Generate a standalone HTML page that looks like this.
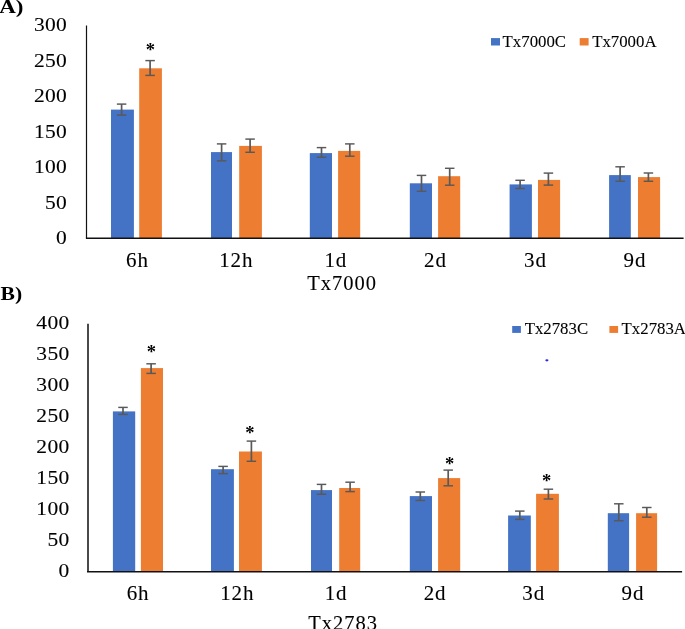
<!DOCTYPE html>
<html><head><meta charset="utf-8"><style>
html,body{margin:0;padding:0;background:#fff;width:685px;height:629px;overflow:hidden}
svg{display:block;will-change:transform;}
text.r{stroke:#000;stroke-width:0.1px;}
text{font-family:"Liberation Serif",serif}
</style></head><body>
<svg width="685" height="629" viewBox="0 0 685 629">
<rect x="111.00" y="109.60" width="22.90" height="128.50" fill="#4472C4"/>
<rect x="139.20" y="68.30" width="22.70" height="169.80" fill="#ED7D31"/>
<rect x="211.00" y="152.10" width="21.00" height="86.00" fill="#4472C4"/>
<rect x="239.20" y="145.90" width="22.70" height="92.20" fill="#ED7D31"/>
<rect x="309.80" y="153.10" width="22.20" height="85.00" fill="#4472C4"/>
<rect x="338.10" y="150.90" width="22.10" height="87.20" fill="#ED7D31"/>
<rect x="409.80" y="183.30" width="22.20" height="54.80" fill="#4472C4"/>
<rect x="438.10" y="176.20" width="22.10" height="61.90" fill="#ED7D31"/>
<rect x="509.60" y="184.40" width="22.30" height="53.70" fill="#4472C4"/>
<rect x="538.00" y="179.90" width="22.10" height="58.20" fill="#ED7D31"/>
<rect x="609.10" y="175.10" width="21.70" height="63.00" fill="#4472C4"/>
<rect x="638.00" y="177.10" width="22.10" height="61.00" fill="#ED7D31"/>
<line x1="121.60" y1="104.10" x2="121.60" y2="115.10" stroke="#595959" stroke-width="1.7"/>
<line x1="116.85" y1="104.10" x2="126.35" y2="104.10" stroke="#595959" stroke-width="1.45"/>
<line x1="116.85" y1="115.10" x2="126.35" y2="115.10" stroke="#595959" stroke-width="1.45"/>
<line x1="150.10" y1="60.60" x2="150.10" y2="75.40" stroke="#595959" stroke-width="1.7"/>
<line x1="145.35" y1="60.60" x2="154.85" y2="60.60" stroke="#595959" stroke-width="1.45"/>
<line x1="145.35" y1="75.40" x2="154.85" y2="75.40" stroke="#595959" stroke-width="1.45"/>
<line x1="221.60" y1="143.90" x2="221.60" y2="160.80" stroke="#595959" stroke-width="1.7"/>
<line x1="216.85" y1="143.90" x2="226.35" y2="143.90" stroke="#595959" stroke-width="1.45"/>
<line x1="216.85" y1="160.80" x2="226.35" y2="160.80" stroke="#595959" stroke-width="1.45"/>
<line x1="250.10" y1="139.10" x2="250.10" y2="152.30" stroke="#595959" stroke-width="1.7"/>
<line x1="245.35" y1="139.10" x2="254.85" y2="139.10" stroke="#595959" stroke-width="1.45"/>
<line x1="245.35" y1="152.30" x2="254.85" y2="152.30" stroke="#595959" stroke-width="1.45"/>
<line x1="321.50" y1="147.60" x2="321.50" y2="157.30" stroke="#595959" stroke-width="1.7"/>
<line x1="316.75" y1="147.60" x2="326.25" y2="147.60" stroke="#595959" stroke-width="1.45"/>
<line x1="316.75" y1="157.30" x2="326.25" y2="157.30" stroke="#595959" stroke-width="1.45"/>
<line x1="349.80" y1="143.90" x2="349.80" y2="156.20" stroke="#595959" stroke-width="1.7"/>
<line x1="345.05" y1="143.90" x2="354.55" y2="143.90" stroke="#595959" stroke-width="1.45"/>
<line x1="345.05" y1="156.20" x2="354.55" y2="156.20" stroke="#595959" stroke-width="1.45"/>
<line x1="421.50" y1="175.40" x2="421.50" y2="191.30" stroke="#595959" stroke-width="1.7"/>
<line x1="416.75" y1="175.40" x2="426.25" y2="175.40" stroke="#595959" stroke-width="1.45"/>
<line x1="416.75" y1="191.30" x2="426.25" y2="191.30" stroke="#595959" stroke-width="1.45"/>
<line x1="449.70" y1="168.30" x2="449.70" y2="185.20" stroke="#595959" stroke-width="1.7"/>
<line x1="444.95" y1="168.30" x2="454.45" y2="168.30" stroke="#595959" stroke-width="1.45"/>
<line x1="444.95" y1="185.20" x2="454.45" y2="185.20" stroke="#595959" stroke-width="1.45"/>
<line x1="520.10" y1="180.30" x2="520.10" y2="188.50" stroke="#595959" stroke-width="1.7"/>
<line x1="515.35" y1="180.30" x2="524.85" y2="180.30" stroke="#595959" stroke-width="1.45"/>
<line x1="515.35" y1="188.50" x2="524.85" y2="188.50" stroke="#595959" stroke-width="1.45"/>
<line x1="548.40" y1="173.10" x2="548.40" y2="185.10" stroke="#595959" stroke-width="1.7"/>
<line x1="543.65" y1="173.10" x2="553.15" y2="173.10" stroke="#595959" stroke-width="1.45"/>
<line x1="543.65" y1="185.10" x2="553.15" y2="185.10" stroke="#595959" stroke-width="1.45"/>
<line x1="620.10" y1="166.80" x2="620.10" y2="181.30" stroke="#595959" stroke-width="1.7"/>
<line x1="615.35" y1="166.80" x2="624.85" y2="166.80" stroke="#595959" stroke-width="1.45"/>
<line x1="615.35" y1="181.30" x2="624.85" y2="181.30" stroke="#595959" stroke-width="1.45"/>
<line x1="648.40" y1="173.00" x2="648.40" y2="181.30" stroke="#595959" stroke-width="1.7"/>
<line x1="643.65" y1="173.00" x2="653.15" y2="173.00" stroke="#595959" stroke-width="1.45"/>
<line x1="643.65" y1="181.30" x2="653.15" y2="181.30" stroke="#595959" stroke-width="1.45"/>
<line x1="86.50" y1="25.50" x2="86.50" y2="238.28" stroke="#111" stroke-width="1.2"/>
<line x1="85.90" y1="238.28" x2="683.60" y2="238.28" stroke="#111" stroke-width="1.65"/>
<text transform="translate(56.08,243.99) scale(1.085,1)" font-size="19.8" letter-spacing="0.3" class="r" fill="#000">0</text>
<text transform="translate(45.01,208.55) scale(1.085,1)" font-size="19.8" letter-spacing="0.3" class="r" fill="#000">50</text>
<text transform="translate(33.94,173.12) scale(1.085,1)" font-size="19.8" letter-spacing="0.3" class="r" fill="#000">100</text>
<text transform="translate(33.94,137.69) scale(1.085,1)" font-size="19.8" letter-spacing="0.3" class="r" fill="#000">150</text>
<text transform="translate(33.94,102.25) scale(1.085,1)" font-size="19.8" letter-spacing="0.3" class="r" fill="#000">200</text>
<text transform="translate(33.94,66.82) scale(1.085,1)" font-size="19.8" letter-spacing="0.3" class="r" fill="#000">250</text>
<text transform="translate(33.94,31.39) scale(1.085,1)" font-size="19.8" letter-spacing="0.3" class="r" fill="#000">300</text>
<text transform="translate(126.02,266.70) scale(1.04,1)" font-size="20.2" letter-spacing="0.9" class="r" fill="#000">6h</text>
<text transform="translate(219.17,266.70) scale(1.04,1)" font-size="20.2" letter-spacing="0.9" class="r" fill="#000">12h</text>
<text transform="translate(324.38,266.70) scale(1.04,1)" font-size="20.2" letter-spacing="0.9" class="r" fill="#000">1d</text>
<text transform="translate(424.09,266.70) scale(1.04,1)" font-size="20.2" letter-spacing="0.9" class="r" fill="#000">2d</text>
<text transform="translate(524.05,266.70) scale(1.04,1)" font-size="20.2" letter-spacing="0.9" class="r" fill="#000">3d</text>
<text transform="translate(623.47,266.70) scale(1.04,1)" font-size="20.2" letter-spacing="0.9" class="r" fill="#000">9d</text>
<text x="307.23" y="289.60" font-size="20.5" letter-spacing="1.0" class="r" fill="#000">Tx7000</text>
<rect x="491.00" y="38.10" width="9.00" height="7.40" fill="#4472C4"/>
<rect x="579.70" y="38.10" width="8.90" height="7.40" fill="#ED7D31"/>
<text x="502.60" y="47.20" font-size="16.8" letter-spacing="0.0" class="r" fill="#000">Tx7000C</text>
<text x="592.20" y="47.20" font-size="16.8" letter-spacing="0.0" class="r" fill="#000">Tx7000A</text>
<text x="150.45" y="55.82" font-size="18.5" font-weight="bold" text-anchor="middle" fill="#000">*</text>
<text transform="translate(-0.72,12.80) scale(1.19,1)" font-size="19.3" letter-spacing="0" font-weight="bold" fill="#000">A)</text>
<rect x="112.90" y="411.40" width="22.30" height="160.10" fill="#4472C4"/>
<rect x="140.90" y="368.10" width="22.10" height="203.40" fill="#ED7D31"/>
<rect x="211.00" y="469.20" width="22.90" height="102.30" fill="#4472C4"/>
<rect x="239.00" y="451.50" width="22.90" height="120.00" fill="#ED7D31"/>
<rect x="311.00" y="490.10" width="21.00" height="81.40" fill="#4472C4"/>
<rect x="339.20" y="488.00" width="21.00" height="83.50" fill="#ED7D31"/>
<rect x="409.80" y="496.10" width="22.20" height="75.40" fill="#4472C4"/>
<rect x="438.10" y="478.10" width="22.10" height="93.40" fill="#ED7D31"/>
<rect x="508.10" y="515.50" width="22.70" height="56.00" fill="#4472C4"/>
<rect x="536.10" y="493.80" width="22.80" height="77.70" fill="#ED7D31"/>
<rect x="607.80" y="513.20" width="21.30" height="58.30" fill="#4472C4"/>
<rect x="636.10" y="513.20" width="21.00" height="58.30" fill="#ED7D31"/>
<line x1="123.00" y1="407.40" x2="123.00" y2="414.40" stroke="#595959" stroke-width="1.7"/>
<line x1="118.25" y1="407.40" x2="127.75" y2="407.40" stroke="#595959" stroke-width="1.45"/>
<line x1="118.25" y1="414.40" x2="127.75" y2="414.40" stroke="#595959" stroke-width="1.45"/>
<line x1="151.10" y1="363.80" x2="151.10" y2="373.40" stroke="#595959" stroke-width="1.7"/>
<line x1="146.35" y1="363.80" x2="155.85" y2="363.80" stroke="#595959" stroke-width="1.45"/>
<line x1="146.35" y1="373.40" x2="155.85" y2="373.40" stroke="#595959" stroke-width="1.45"/>
<line x1="223.10" y1="466.40" x2="223.10" y2="473.60" stroke="#595959" stroke-width="1.7"/>
<line x1="218.35" y1="466.40" x2="227.85" y2="466.40" stroke="#595959" stroke-width="1.45"/>
<line x1="218.35" y1="473.60" x2="227.85" y2="473.60" stroke="#595959" stroke-width="1.45"/>
<line x1="251.40" y1="441.10" x2="251.40" y2="461.30" stroke="#595959" stroke-width="1.7"/>
<line x1="246.65" y1="441.10" x2="256.15" y2="441.10" stroke="#595959" stroke-width="1.45"/>
<line x1="246.65" y1="461.30" x2="256.15" y2="461.30" stroke="#595959" stroke-width="1.45"/>
<line x1="321.50" y1="484.40" x2="321.50" y2="494.30" stroke="#595959" stroke-width="1.7"/>
<line x1="316.75" y1="484.40" x2="326.25" y2="484.40" stroke="#595959" stroke-width="1.45"/>
<line x1="316.75" y1="494.30" x2="326.25" y2="494.30" stroke="#595959" stroke-width="1.45"/>
<line x1="350.10" y1="482.20" x2="350.10" y2="491.60" stroke="#595959" stroke-width="1.7"/>
<line x1="345.35" y1="482.20" x2="354.85" y2="482.20" stroke="#595959" stroke-width="1.45"/>
<line x1="345.35" y1="491.60" x2="354.85" y2="491.60" stroke="#595959" stroke-width="1.45"/>
<line x1="420.30" y1="492.00" x2="420.30" y2="500.50" stroke="#595959" stroke-width="1.7"/>
<line x1="415.55" y1="492.00" x2="425.05" y2="492.00" stroke="#595959" stroke-width="1.45"/>
<line x1="415.55" y1="500.50" x2="425.05" y2="500.50" stroke="#595959" stroke-width="1.45"/>
<line x1="448.20" y1="470.10" x2="448.20" y2="485.80" stroke="#595959" stroke-width="1.7"/>
<line x1="443.45" y1="470.10" x2="452.95" y2="470.10" stroke="#595959" stroke-width="1.45"/>
<line x1="443.45" y1="485.80" x2="452.95" y2="485.80" stroke="#595959" stroke-width="1.45"/>
<line x1="519.80" y1="511.10" x2="519.80" y2="519.40" stroke="#595959" stroke-width="1.7"/>
<line x1="515.05" y1="511.10" x2="524.55" y2="511.10" stroke="#595959" stroke-width="1.45"/>
<line x1="515.05" y1="519.40" x2="524.55" y2="519.40" stroke="#595959" stroke-width="1.45"/>
<line x1="548.40" y1="489.20" x2="548.40" y2="499.00" stroke="#595959" stroke-width="1.7"/>
<line x1="543.65" y1="489.20" x2="553.15" y2="489.20" stroke="#595959" stroke-width="1.45"/>
<line x1="543.65" y1="499.00" x2="553.15" y2="499.00" stroke="#595959" stroke-width="1.45"/>
<line x1="618.80" y1="503.80" x2="618.80" y2="520.70" stroke="#595959" stroke-width="1.7"/>
<line x1="614.05" y1="503.80" x2="623.55" y2="503.80" stroke="#595959" stroke-width="1.45"/>
<line x1="614.05" y1="520.70" x2="623.55" y2="520.70" stroke="#595959" stroke-width="1.45"/>
<line x1="646.80" y1="507.50" x2="646.80" y2="517.20" stroke="#595959" stroke-width="1.7"/>
<line x1="642.05" y1="507.50" x2="651.55" y2="507.50" stroke="#595959" stroke-width="1.45"/>
<line x1="642.05" y1="517.20" x2="651.55" y2="517.20" stroke="#595959" stroke-width="1.45"/>
<line x1="88.00" y1="323.80" x2="88.00" y2="571.65" stroke="#4a4a4a" stroke-width="2.0"/>
<line x1="87.00" y1="571.65" x2="682.10" y2="571.65" stroke="#111" stroke-width="1.5"/>
<text transform="translate(58.48,576.99) scale(1.085,1)" font-size="19.8" letter-spacing="0.3" class="r" fill="#000">0</text>
<text transform="translate(47.41,546.02) scale(1.085,1)" font-size="19.8" letter-spacing="0.3" class="r" fill="#000">50</text>
<text transform="translate(36.34,515.06) scale(1.085,1)" font-size="19.8" letter-spacing="0.3" class="r" fill="#000">100</text>
<text transform="translate(36.34,484.10) scale(1.085,1)" font-size="19.8" letter-spacing="0.3" class="r" fill="#000">150</text>
<text transform="translate(36.34,453.14) scale(1.085,1)" font-size="19.8" letter-spacing="0.3" class="r" fill="#000">200</text>
<text transform="translate(36.34,422.17) scale(1.085,1)" font-size="19.8" letter-spacing="0.3" class="r" fill="#000">250</text>
<text transform="translate(36.34,391.21) scale(1.085,1)" font-size="19.8" letter-spacing="0.3" class="r" fill="#000">300</text>
<text transform="translate(36.34,360.25) scale(1.085,1)" font-size="19.8" letter-spacing="0.3" class="r" fill="#000">350</text>
<text transform="translate(36.34,329.29) scale(1.085,1)" font-size="19.8" letter-spacing="0.3" class="r" fill="#000">400</text>
<text transform="translate(126.67,600.00) scale(1.04,1)" font-size="20.2" letter-spacing="0.9" class="r" fill="#000">6h</text>
<text transform="translate(220.17,600.00) scale(1.04,1)" font-size="20.2" letter-spacing="0.9" class="r" fill="#000">12h</text>
<text transform="translate(324.68,600.00) scale(1.04,1)" font-size="20.2" letter-spacing="0.9" class="r" fill="#000">1d</text>
<text transform="translate(423.69,600.00) scale(1.04,1)" font-size="20.2" letter-spacing="0.9" class="r" fill="#000">2d</text>
<text transform="translate(522.35,600.00) scale(1.04,1)" font-size="20.2" letter-spacing="0.9" class="r" fill="#000">3d</text>
<text transform="translate(621.47,600.00) scale(1.04,1)" font-size="20.2" letter-spacing="0.9" class="r" fill="#000">9d</text>
<text x="308.23" y="629.60" font-size="20.5" letter-spacing="1.0" class="r" fill="#000">Tx2783</text>
<rect x="512.20" y="326.00" width="8.70" height="6.90" fill="#4472C4"/>
<rect x="609.40" y="326.00" width="8.70" height="6.90" fill="#ED7D31"/>
<text x="524.70" y="334.40" font-size="16.8" letter-spacing="0.0" class="r" fill="#000">Tx2783C</text>
<text x="621.60" y="334.40" font-size="16.8" letter-spacing="0.0" class="r" fill="#000">Tx2783A</text>
<text x="151.30" y="358.42" font-size="18.5" font-weight="bold" text-anchor="middle" fill="#000">*</text>
<text x="249.80" y="439.37" font-size="18.5" font-weight="bold" text-anchor="middle" fill="#000">*</text>
<text x="449.60" y="469.62" font-size="18.5" font-weight="bold" text-anchor="middle" fill="#000">*</text>
<text x="546.50" y="486.62" font-size="18.5" font-weight="bold" text-anchor="middle" fill="#000">*</text>
<text transform="translate(0.54,300.00) scale(1.12,1)" font-size="19.3" letter-spacing="0" font-weight="bold" fill="#000">B)</text>
<ellipse cx="546.9" cy="360.3" rx="1.6" ry="1.1" fill="#2a2ae0"/>
</svg>
</body></html>
